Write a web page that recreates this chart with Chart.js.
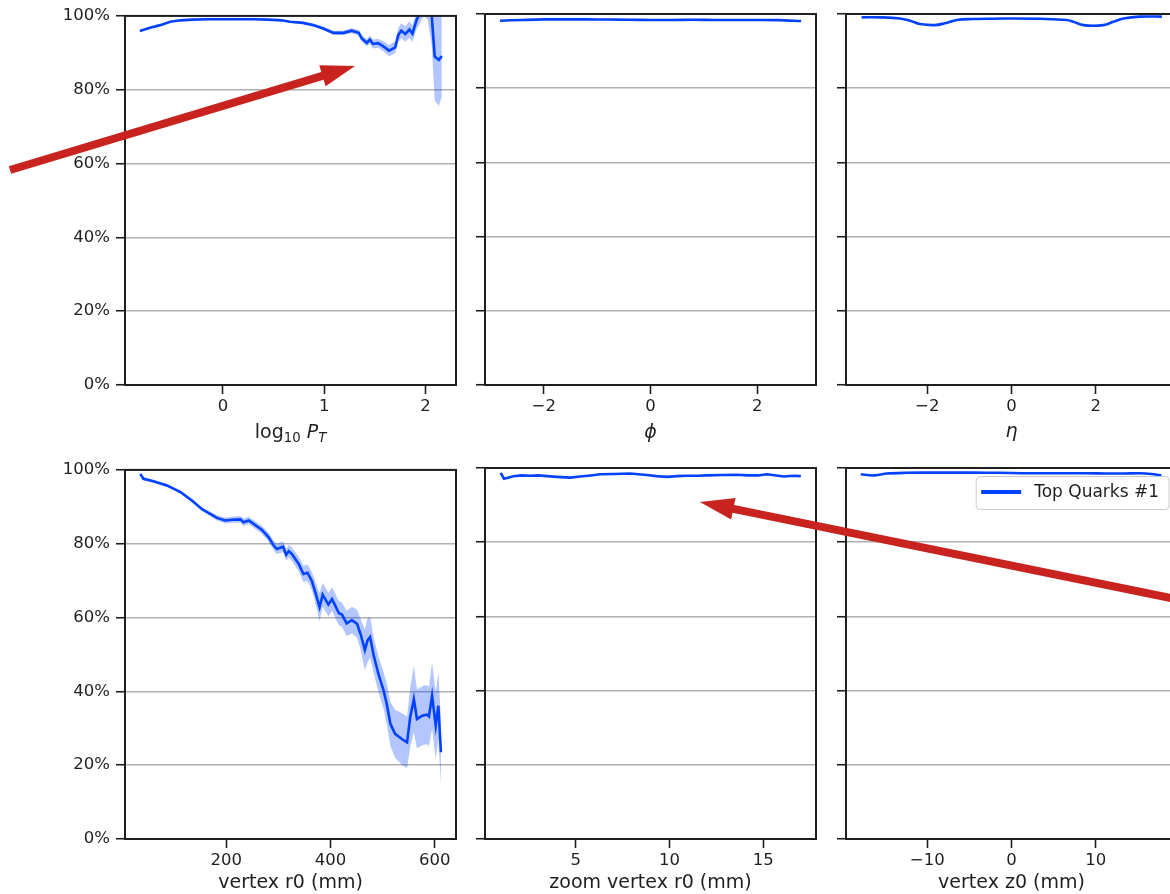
<!DOCTYPE html>
<html>
<head>
<meta charset="utf-8">
<script src="https://cdn.jsdelivr.net/npm/chart.js@4"></script>
<style>
  html, body { margin: 0; padding: 0; background: #fff; overflow: hidden; }
  #fig { position: relative; width: 1170px; height: 894px; overflow: hidden; }
  #fig canvas { position: absolute; }
  #arrows { left: 0; top: 0; z-index: 5; pointer-events: none; }
</style>
</head>
<body>
<div id="fig">
  <canvas id="pt"></canvas>
  <canvas id="phi"></canvas>
  <canvas id="eta"></canvas>
  <canvas id="r0"></canvas>
  <canvas id="zr0"></canvas>
  <canvas id="z0"></canvas>
  <canvas id="arrows" width="1170" height="894"></canvas>
</div>
<script>
// data (efficiency in %, err = half width of the shaded band)

const ptX   = [-0.82, -0.72, -0.62, -0.52, -0.42, -0.3, -0.15, 0.0, 0.15, 0.3, 0.45, 0.58, 0.66, 0.79, 0.89, 0.99, 1.09, 1.19, 1.27, 1.34, 1.37, 1.42, 1.45, 1.48, 1.53, 1.58, 1.64, 1.70, 1.73, 1.76, 1.80, 1.84, 1.87, 1.91, 1.94, 1.98, 2.02, 2.06, 2.09, 2.13, 2.16];
const ptEff = [95.9, 96.8, 97.5, 98.4, 98.8, 99.0, 99.1, 99.1, 99.1, 99.1, 99.0, 98.8, 98.4, 98.1, 97.5, 96.6, 95.4, 95.4, 96.0, 95.4, 93.9, 92.7, 93.6, 92.4, 92.6, 91.8, 90.6, 91.5, 94.8, 96.0, 95.1, 96.3, 95.2, 98.8, 100.6, 103.0, 103.0, 100.2, 89.0, 88.1, 89.1];
const ptErr = [0.15, 0.1, 0.1, 0.1, 0.1, 0.1, 0.1, 0.1, 0.1, 0.1, 0.15, 0.2, 0.2, 0.3, 0.4, 0.5, 0.6, 0.6, 0.7, 0.8, 0.9, 1.0, 1.1, 1.2, 1.2, 1.3, 1.5, 1.6, 1.9, 2.0, 2.1, 2.2, 2.3, 2.5, 2.8, 3.0, 4.0, 8.0, 12.0, 12.5, 11.0];
const ptTicks = [0, 1, 2];

const phiX   = [-2.82, -2.4, -2.0, -1.6, -1.2, -0.8, -0.4, 0.0, 0.4, 0.8, 1.2, 1.6, 2.0, 2.4, 2.82];
const phiEff = [98.2, 98.4, 98.55, 98.55, 98.55, 98.5, 98.45, 98.4, 98.4, 98.45, 98.4, 98.4, 98.4, 98.35, 98.1];
const phiErr = [0.15, 0.1, 0.1, 0.1, 0.1, 0.1, 0.1, 0.1, 0.1, 0.1, 0.1, 0.1, 0.1, 0.1, 0.15];
const phiTicks = [-2, 0, 2];

const etaX   = [-3.56, -3.1, -2.65, -2.41, -2.17, -1.82, -1.58, -1.30, -0.91, -0.11, 0.68, 1.31, 1.47, 1.71, 2.18, 2.42, 2.66, 3.05, 3.57];
const etaEff = [99.1, 99.1, 98.8, 98.2, 97.3, 97.0, 97.5, 98.4, 98.65, 98.8, 98.7, 98.4, 97.9, 97.0, 97.0, 97.9, 98.8, 99.3, 99.3];
const etaErr = [0.15, 0.1, 0.1, 0.1, 0.1, 0.1, 0.1, 0.1, 0.1, 0.1, 0.1, 0.1, 0.1, 0.1, 0.1, 0.1, 0.1, 0.1, 0.15];
const etaTicks = [-2, 0, 2];

const r0X   = [35, 41, 60, 86, 112, 134, 153, 169, 182, 198, 211, 227, 233, 243, 252, 268, 281, 291, 297, 309, 315, 320, 326, 339, 348, 356, 364, 371, 379, 385, 396, 403, 416, 422, 431, 441, 451, 458, 466, 471, 476, 483, 492, 502, 508, 515, 524, 537, 547, 553, 560, 566, 576, 585, 589, 595, 602, 607, 612];
const r0Eff = [98.9, 97.6, 96.9, 95.8, 94.0, 91.7, 89.4, 88.1, 87.0, 86.3, 86.5, 86.6, 85.8, 86.3, 85.4, 83.8, 81.8, 79.5, 78.6, 79.2, 77.0, 78.0, 77.2, 74.5, 71.8, 72.1, 70.0, 66.8, 62.8, 66.2, 63.5, 65.0, 61.2, 60.8, 58.4, 59.3, 58.3, 55.4, 51.2, 53.8, 54.7, 49.7, 44.7, 40.2, 36.6, 31.2, 28.5, 27.1, 26.2, 33.0, 37.9, 32.5, 33.4, 33.7, 33.2, 38.8, 30.7, 36.1, 23.5];
const r0Err = [0.4, 0.4, 0.4, 0.4, 0.4, 0.5, 0.5, 0.6, 0.7, 0.8, 0.8, 0.9, 1.0, 1.0, 1.0, 1.1, 1.2, 1.3, 1.4, 1.5, 1.6, 1.7, 1.8, 2.0, 2.2, 2.3, 2.5, 2.8, 3.8, 3.2, 3.2, 3.2, 3.3, 3.3, 3.4, 3.6, 3.8, 4.2, 5.5, 6.0, 5.5, 4.8, 4.8, 5.0, 5.5, 6.0, 6.5, 7.0, 7.0, 8.0, 9.0, 8.0, 8.0, 8.0, 8.0, 9.0, 9.0, 9.0, 9.0];
const r0Ticks = [200, 400, 600];

const zr0X   = [0.99, 1.17, 1.67, 2.1, 2.56, 3.0, 3.45, 4.0, 4.69, 5.22, 5.8, 6.29, 7.0, 7.89, 8.78, 9.3, 9.85, 10.4, 10.9, 11.5, 12.0, 12.8, 13.6, 14.2, 14.7, 15.2, 15.7, 16.1, 16.6, 17.0];
const zr0Eff = [98.7, 97.1, 97.8, 98.0, 97.9, 98.0, 97.8, 97.6, 97.4, 97.7, 98.0, 98.3, 98.4, 98.5, 98.1, 97.8, 97.6, 97.8, 97.9, 97.9, 98.0, 98.1, 98.2, 98.0, 98.0, 98.3, 98.0, 97.7, 97.9, 97.8];
const zr0Err = [0.2, 0.2, 0.15, 0.15, 0.15, 0.15, 0.15, 0.15, 0.15, 0.15, 0.15, 0.15, 0.15, 0.15, 0.15, 0.15, 0.15, 0.15, 0.15, 0.15, 0.15, 0.15, 0.15, 0.15, 0.15, 0.15, 0.15, 0.15, 0.15, 0.2];
const zr0Ticks = [5, 10, 15];

const z0X   = [-17.9, -16.4, -14.8, -12.5, -10.5, -7.5, -4.6, -1.5, 1.4, 4.5, 7.3, 10.2, 13.2, 15.2, 16.6, 17.8];
const z0Eff = [98.3, 98.0, 98.5, 98.7, 98.75, 98.75, 98.75, 98.7, 98.6, 98.6, 98.6, 98.55, 98.5, 98.6, 98.4, 98.0];
const z0Err = [0.15, 0.1, 0.1, 0.1, 0.1, 0.1, 0.1, 0.1, 0.1, 0.1, 0.1, 0.1, 0.1, 0.1, 0.1, 0.15];
const z0Ticks = [-10, 0, 10];

const effTicks = [0, 20, 40, 60, 80, 100];
const seriesName = 'Top Quarks #1';

// look

const FONT = "'DejaVu Sans', sans-serif";
const INK = '#1f1f1f';
const GRID = '#b0b0b0';
const BLUE = '#0343ff';
const BAND = 'rgba(3, 67, 255, 0.3)';
const RED = '#c8231e';

// layout of the 2x3 grid
const COL_L = [125, 485, 846];
const ROW_T = [14, 468];
const PANEL_W = 331, PANEL_H = 371;
const PAD_L = 80, PAD_R = 14, PAD_T = 14, PAD_B = 60;

// math labels sit a little lower than plain ones (matplotlib aligns the ink top)
const panels = [
  {id: 'pt',  col: 0, row: 0, x: ptX,  y: ptEff,  err: ptErr,  xMin: -0.967, xMax: 2.30, ticks: ptTicks, titleDrop: 53,
   title: [{t: 'log'}, {t: '10', sub: true}, {t: ' '}, {t: 'P', it: true}, {t: 'T', it: true, sub: true}]},
  {id: 'phi', col: 1, row: 0, x: phiX, y: phiEff, err: phiErr, xMin: -3.1, xMax: 3.1, ticks: phiTicks, tension: 0.3, titleDrop: 53,
   title: [{t: 'ϕ', it: true}]},
  {id: 'eta', col: 2, row: 0, x: etaX, y: etaEff, err: etaErr, xMin: -3.93, xMax: 3.93, ticks: etaTicks, tension: 0.4, titleDrop: 52,
   title: [{t: 'η', it: true}]},
  {id: 'r0',  col: 0, row: 1, x: r0X,  y: r0Eff,  err: r0Err,  xMin: 5.6, xMax: 640.9, ticks: r0Ticks, titleDrop: 49,
   title: [{t: 'vertex r0 (mm)'}]},
  {id: 'zr0', col: 1, row: 1, x: zr0X, y: zr0Eff, err: zr0Err, xMin: 0.157, xMax: 17.81, ticks: zr0Ticks, titleDrop: 49,
   title: [{t: 'zoom vertex r0 (mm)'}]},
  {id: 'z0',  col: 2, row: 1, x: z0X,  y: z0Eff,  err: z0Err,  xMin: -19.65, xMax: 19.65, ticks: z0Ticks, tension: 0.3, titleDrop: 49,
   title: [{t: 'vertex z0 (mm)'}], legend: true}
];

// plugins

const framePlugin = {
  id: 'frame',
  afterDatasetsDraw(chart) {
    const {ctx, chartArea: a} = chart;
    ctx.save();
    ctx.strokeStyle = INK;
    ctx.lineWidth = 2;
    ctx.strokeRect(a.left, a.top, a.right - a.left, a.bottom - a.top);
    ctx.restore();
  }
};

// x axis title with italics and subscripts
const titlePlugin = {
  id: 'axisTitle',
  afterDraw(chart, args, opts) {
    const parts = opts.parts || [];
    const {ctx, chartArea: a} = chart;
    const size = 19;
    const fontOf = p => (p.it ? 'oblique ' : '') + (p.sub ? size * 0.7 : size) + 'px ' + FONT;
    ctx.save();
    let total = 0;
    parts.forEach(p => { ctx.font = fontOf(p); total += ctx.measureText(p.t).width; });
    let x = (a.left + a.right) / 2 - total / 2;
    const base = a.bottom + opts.drop;
    ctx.fillStyle = INK;
    ctx.textBaseline = 'alphabetic';
    ctx.textAlign = 'left';
    parts.forEach(p => {
      ctx.font = fontOf(p);
      ctx.fillText(p.t, x, p.sub ? base + 4 : base);
      x += ctx.measureText(p.t).width;
    });
    ctx.restore();
  }
};

// matplotlib-like legend box inside the axes, upper right
const boxLegendPlugin = {
  id: 'boxLegend',
  afterDraw(chart, args, opts) {
    if (!opts.show) return;
    const {ctx, chartArea: a} = chart;
    const ds = chart.data.datasets.find(d => d.label);
    ctx.save();
    ctx.font = '17px ' + FONT;
    const tw = ctx.measureText(ds.label).width;
    const w = 5 + 40 + 13 + tw + 10, h = 33;
    const x = a.right - 8 - w, y = a.top + 8.5;
    ctx.beginPath();
    ctx.roundRect(x, y, w, h, 4);
    ctx.fillStyle = 'rgba(255,255,255,0.8)';
    ctx.fill();
    ctx.strokeStyle = '#cccccc';
    ctx.lineWidth = 1;
    ctx.stroke();
    ctx.strokeStyle = ds.borderColor;
    ctx.lineWidth = 4;
    ctx.beginPath();
    ctx.moveTo(x + 5, y + h / 2 - 1);
    ctx.lineTo(x + 45, y + h / 2 - 1);
    ctx.stroke();
    ctx.fillStyle = INK;
    ctx.textBaseline = 'middle';
    ctx.fillText(ds.label, x + 58, y + h / 2);
    ctx.restore();
  }
};

const fmtTick = v => (v < 0 ? '\u2212' : '') + Math.abs(v);

function makePanel(p) {
  const cv = document.getElementById(p.id);
  cv.width = PANEL_W + PAD_L + PAD_R;
  cv.height = PANEL_H + PAD_T + PAD_B;
  cv.style.left = (COL_L[p.col] - PAD_L) + 'px';
  cv.style.top = (ROW_T[p.row] - PAD_T) + 'px';

  const pts = arr => p.x.map((x, i) => ({x: x, y: arr[i]}));
  const lo = p.y.map((v, i) => v - p.err[i]);
  const hi = p.y.map((v, i) => v + p.err[i]);
  const tension = p.tension || 0;

  return new Chart(cv, {
    type: 'line',
    data: {
      datasets: [
        {data: pts(lo), borderColor: 'rgba(0,0,0,0)', borderWidth: 0, pointRadius: 0, fill: false, tension: tension},
        {data: pts(hi), borderColor: 'rgba(0,0,0,0)', borderWidth: 0, pointRadius: 0, fill: '-1', backgroundColor: BAND, tension: tension},
        {label: seriesName, data: pts(p.y), borderColor: BLUE, borderWidth: 2.6, pointRadius: 0, fill: false, tension: tension}
      ]
    },
    options: {
      responsive: false,
      animation: false,
      events: [],
      layout: {padding: {top: PAD_T, right: PAD_R, left: 0, bottom: 0}},
      plugins: {
        legend: {display: false},
        tooltip: {enabled: false},
        axisTitle: {parts: p.title, drop: p.titleDrop},
        boxLegend: {show: !!p.legend}
      },
      scales: {
        x: {
          type: 'linear', min: p.xMin, max: p.xMax, bounds: 'data',
          afterBuildTicks: s => { s.ticks = p.ticks.map(v => ({value: v})); },
          afterFit: s => { s.height = PAD_B; s.paddingLeft = 0; s.paddingRight = 0; },
          border: {display: false},
          grid: {drawOnChartArea: false, drawTicks: true, tickLength: 9, tickWidth: 1.6, tickColor: INK},
          ticks: {autoSkip: false, maxRotation: 0, padding: 3,
                  color: INK, font: {family: FONT, size: 16.5}, callback: fmtTick}
        },
        y: {
          min: 0, max: 100,
          afterBuildTicks: s => { s.ticks = effTicks.map(v => ({value: v})); },
          afterFit: s => { s.width = PAD_L; },
          border: {display: false},
          grid: {color: GRID, lineWidth: 1.5, tickLength: 9, tickWidth: 1.6, tickColor: INK},
          ticks: {display: p.col === 0, padding: 6, color: INK,
                  font: {family: FONT, size: 16.5}, callback: v => v + '%'}
        }
      }
    },
    plugins: [framePlugin, titlePlugin, boxLegendPlugin]
  });
}

panels.forEach(makePanel);

// red annotation arrows drawn over the figure
const arrows = [
  {from: [10, 170], to: [355, 66]},
  {from: [1190, 602], to: [700, 502]}
];

function drawArrow(ctx, from, to) {
  const [x0, y0] = from, [x1, y1] = to;
  const dx = x1 - x0, dy = y1 - y0, len = Math.hypot(dx, dy);
  const ux = dx / len, uy = dy / len, nx = -uy, ny = ux;
  const headLen = 34, headHalf = 11, shaftHalf = 4;
  const bx = x1 - ux * headLen, by = y1 - uy * headLen;
  ctx.beginPath();
  ctx.moveTo(x0 + nx * shaftHalf, y0 + ny * shaftHalf);
  ctx.lineTo(bx + nx * shaftHalf, by + ny * shaftHalf);
  ctx.lineTo(bx + nx * headHalf, by + ny * headHalf);
  ctx.lineTo(x1, y1);
  ctx.lineTo(bx - nx * headHalf, by - ny * headHalf);
  ctx.lineTo(bx - nx * shaftHalf, by - ny * shaftHalf);
  ctx.lineTo(x0 - nx * shaftHalf, y0 - ny * shaftHalf);
  ctx.closePath();
  ctx.fill();
}

const actx = document.getElementById('arrows').getContext('2d');
actx.fillStyle = RED;
arrows.forEach(a => drawArrow(actx, a.from, a.to));
</script>
</body>
</html>
